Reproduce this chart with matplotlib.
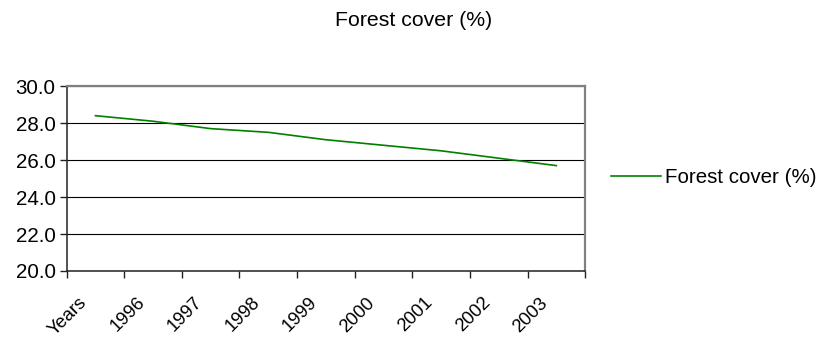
import matplotlib.pyplot as plt
import matplotlib.transforms as mtransforms
from matplotlib.ticker import FixedLocator

plt.rcParams['font.family'] = ['Liberation Sans', 'DejaVu Sans']

# 森林被覆率の推移
categories = ['Years', '1996', '1997', '1998', '1999', '2000', '2001', '2002', '2003']
forest_cover = [28.4, 28.1, 27.7, 27.5, 27.1, 26.8, 26.5, 26.1, 25.7]
y_ticks = [20.0, 22.0, 24.0, 26.0, 28.0, 30.0]

fig = plt.figure(figsize=(8.23, 3.39), dpi=100)
ax = fig.add_axes([0.081, 0.2006, 0.630, 0.5454])

x = list(range(len(categories)))
line, = ax.plot(x, forest_cover, color='#008000', linewidth=1.2, label='Forest cover (%)')

ax.set_xlim(-0.5, len(categories) - 0.5)
ax.set_ylim(20, 30)

# 目盛り：ラベルはカテゴリ中央、目盛り線は境界
ax.set_xticks(x)
ax.set_xticklabels(categories, rotation=45, ha='right', va='center',
                   rotation_mode='anchor', fontsize=13.3)
ax.tick_params(axis='x', which='major', length=0, pad=21)
ax.xaxis.set_minor_locator(FixedLocator([i - 0.5 for i in range(len(categories) + 1)]))
ax.tick_params(axis='x', which='minor', length=5, width=1, color='#222222', direction='out')
offset = mtransforms.ScaledTranslation(-11 / 100, 0, fig.dpi_scale_trans)
for lab in ax.get_xticklabels():
    lab.set_transform(lab.get_transform() + offset)

ax.set_yticks(y_ticks)
ax.set_yticklabels([f'{v:.1f}' for v in y_ticks], fontsize=14.8)
ax.tick_params(axis='y', length=5, width=1, color='#222222', direction='out', pad=3)

# グリッド
ax.grid(axis='y', color='#000000', linewidth=0.8)
ax.set_axisbelow(True)

for side in ['left', 'bottom']:
    ax.spines[side].set_color('#222222')
    ax.spines[side].set_linewidth(1.1)
for side in ['top', 'right']:
    ax.spines[side].set_color('#808080')
    ax.spines[side].set_linewidth(1.6)

fig.text(0.502, 0.941, 'Forest cover (%)', ha='center', va='center', fontsize=15.3)

fig.legend(handles=[line], loc='center left', bbox_to_anchor=(0.733, 0.475),
           frameon=False, fontsize=14.8, handlelength=2.4, handletextpad=0.2,
           borderaxespad=0)

fig.savefig('out.png', dpi=100)
